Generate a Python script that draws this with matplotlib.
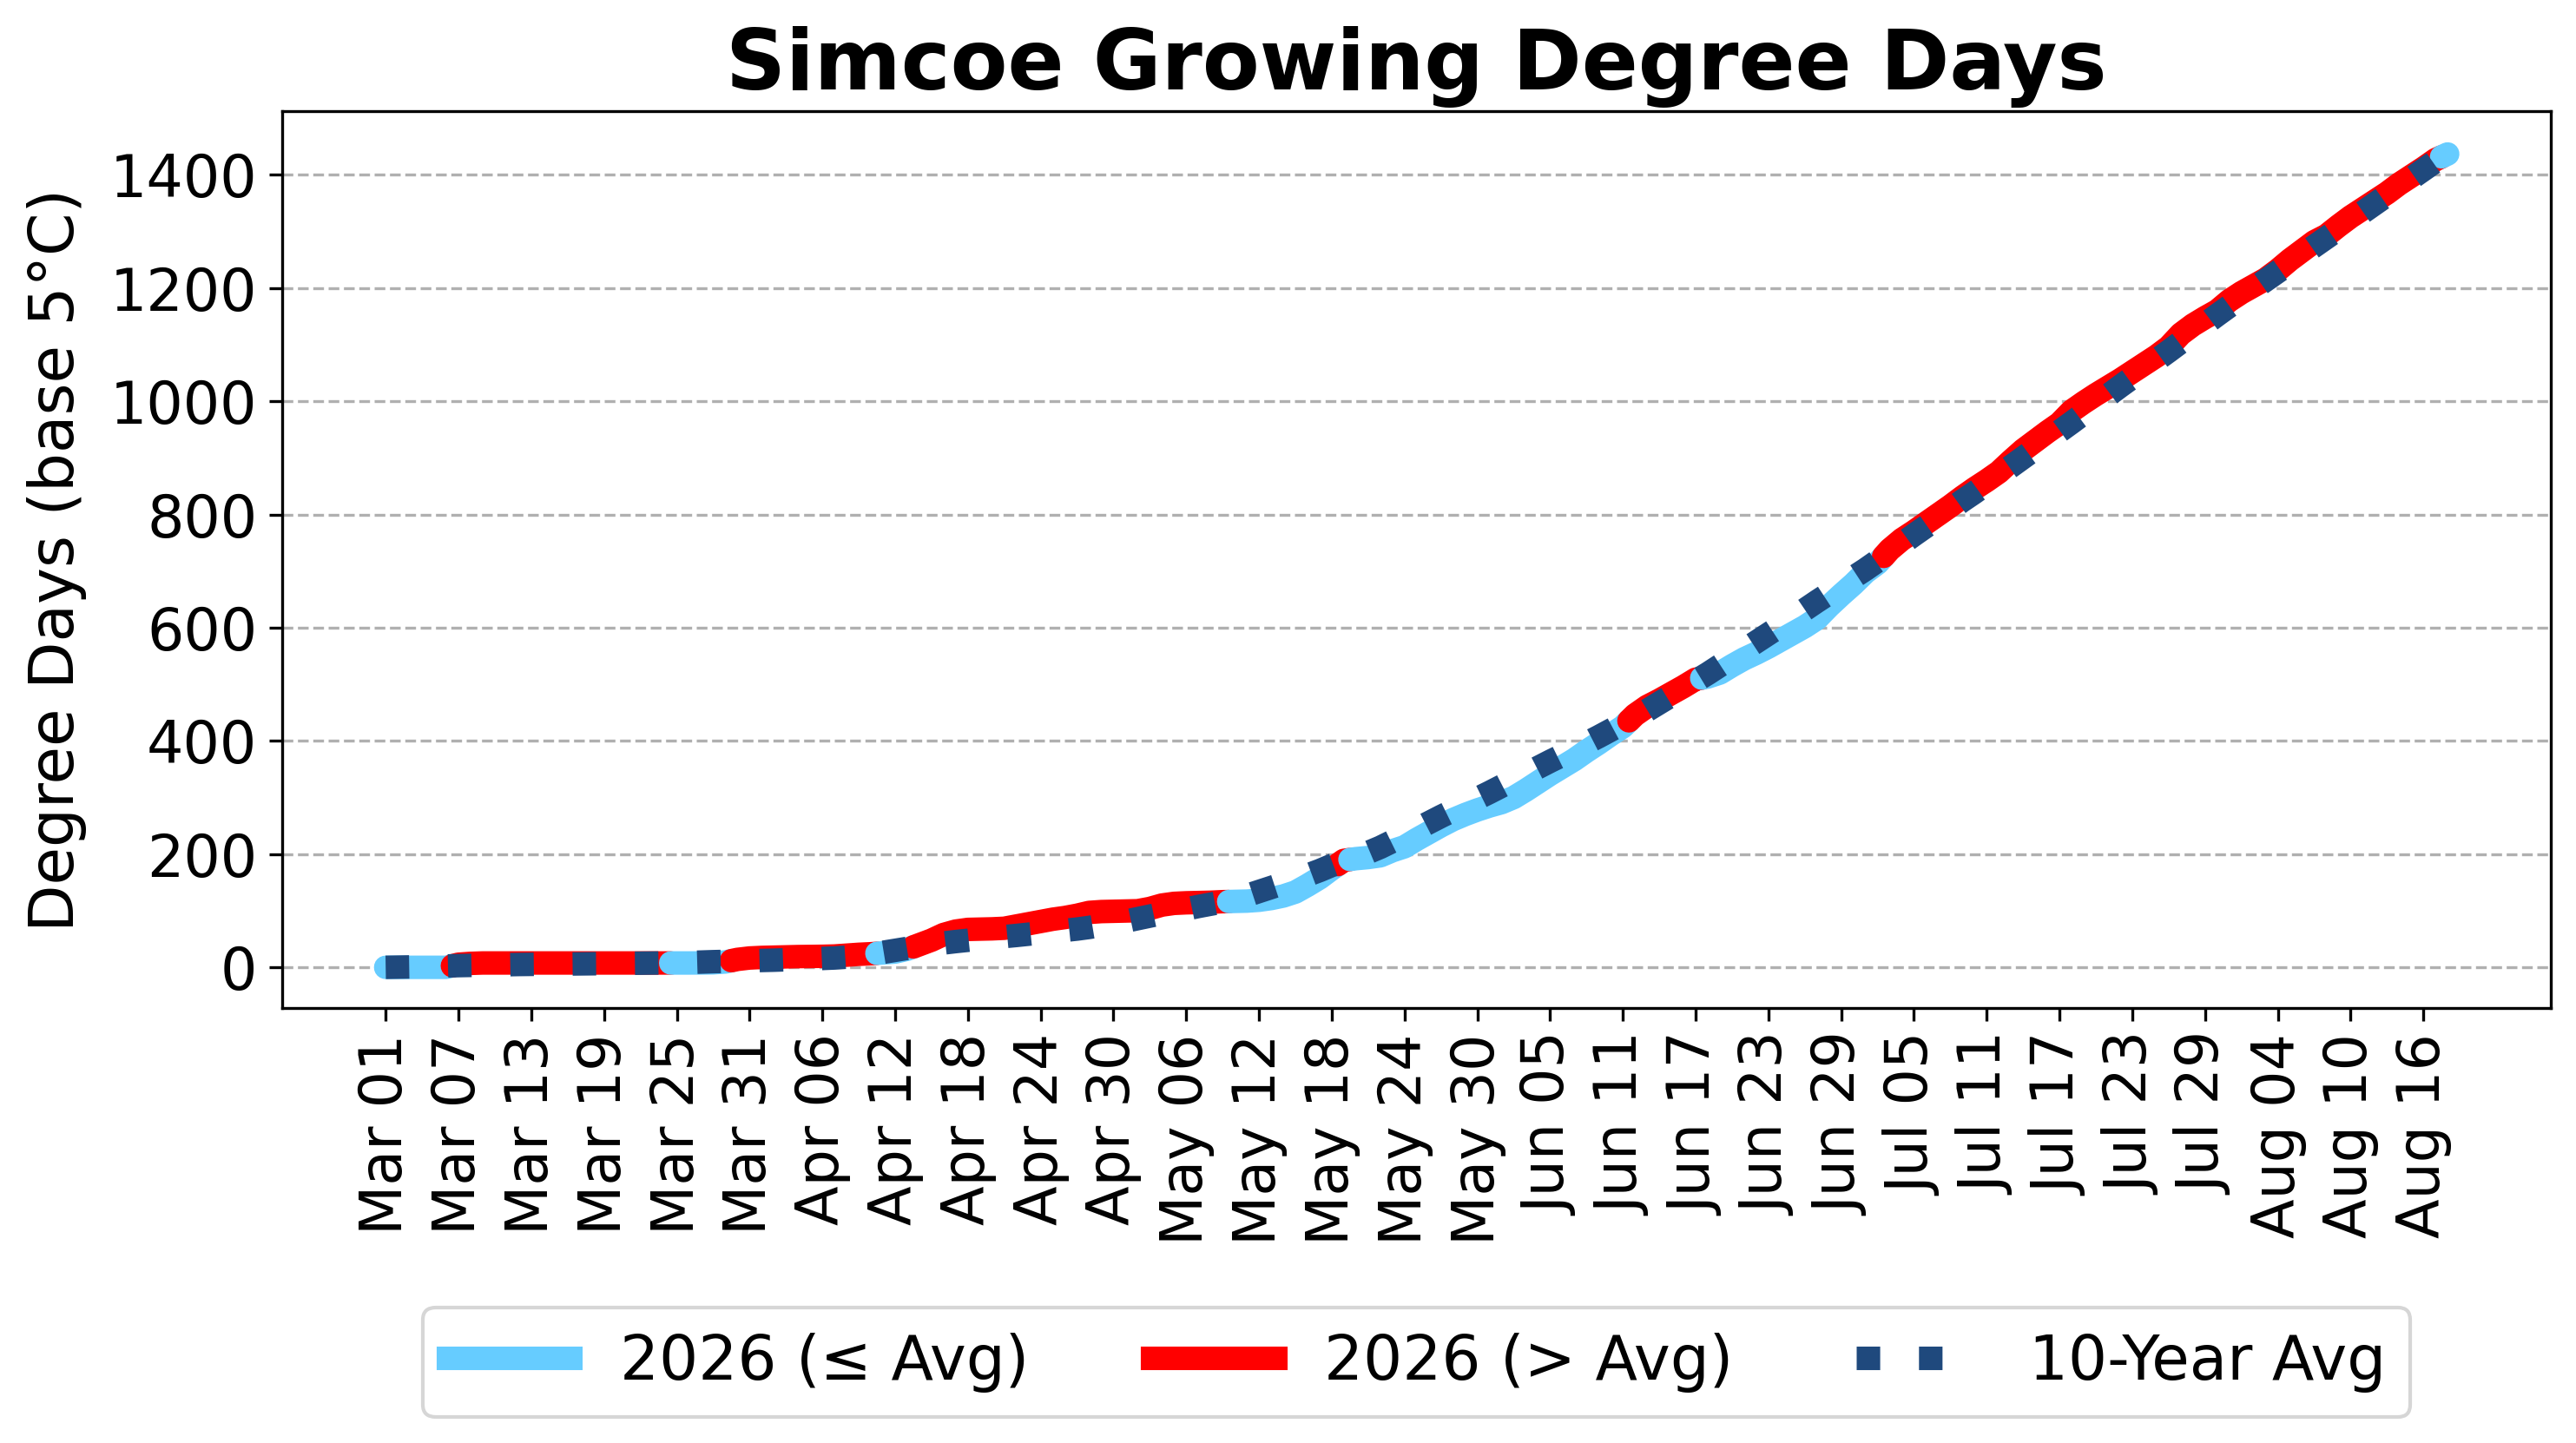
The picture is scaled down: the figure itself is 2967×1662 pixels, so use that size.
#!/usr/bin/env python3
"""
Simcoe growing degree days: 2026 season vs the 10-year average.
"""

import numpy as np
import pandas as pd
import matplotlib
matplotlib.use("Agg")
import matplotlib.pyplot as plt
import matplotlib.dates as mdates
from matplotlib.lines import Line2D
from matplotlib.ticker import MultipleLocator


OUTPUT_FILE = "out.png"

DATES = pd.date_range("2026-03-01", "2026-08-18", freq="D")

# cumulative GDD (base 5C), one value per day
GDD_2026 = [
    0, 0, 0, 0, 0, 0, 5.5, 7.0, 7.7, 7.7,
    7.7, 7.7, 7.7, 7.7, 7.7, 7.7, 7.7, 7.7, 7.7, 7.7,
    7.7, 7.7, 7.7, 7.7, 7.7, 7.7, 7.8, 8.0, 9.5, 14.0,
    16.5, 17.5, 18.0, 18.5, 19.0, 19.2, 19.5, 20.0, 21.5, 23.0,
    24.0, 25.5, 27.0, 32.0, 40.0, 48.0, 58.0, 64.0, 67.0, 67.5,
    68.0, 69.0, 73.0, 77.0, 81.0, 85.0, 88.0, 92.0, 97.0, 98.5,
    99.0, 99.5, 100.0, 104.0, 110.0, 113.0, 114.0, 114.5, 115.0, 116.0,
    116.5, 117, 118.5, 121.5, 126, 133, 145, 158, 174, 189,
    192, 194, 197, 206, 213, 226, 238, 250, 261, 270,
    278, 285, 291, 300, 313, 327, 341, 354, 367, 382,
    396, 411, 425, 446, 461, 472, 484, 496, 509, 513,
    520, 533, 545, 555, 566, 578, 590, 602, 616, 638,
    658, 677, 698, 714, 738, 756, 770, 785, 800, 815,
    831, 846, 860, 875, 895, 914, 930, 946, 961, 983,
    998, 1012, 1025, 1038, 1052, 1066, 1080, 1096, 1119, 1135,
    1148, 1160, 1178, 1192, 1204, 1216, 1232, 1250, 1266, 1282,
    1293, 1310, 1326, 1340, 1354, 1368, 1384, 1398, 1412, 1427,
    1437,
]

GDD_AVG = [
    0, 0.3, 0.7, 1.2, 1.8, 2.4, 3.0, 3.4, 3.8, 4.2,
    4.6, 5.0, 5.2, 5.4, 5.6, 5.8, 6.0, 6.3, 6.6, 6.9,
    7.1, 7.3, 7.5, 7.6, 8.0, 8.6, 9.3, 10.0, 10.5, 11.0,
    11.5, 12.0, 12.6, 13.3, 14.0, 14.8, 15.6, 16.5, 18.0, 20.5,
    23.5, 26.5, 30.0, 33.5, 37.0, 40.0, 43.0, 45.5, 47.8, 50.0,
    52.2, 54.3, 56.3, 58.5, 60.7, 63.0, 65.3, 67.6, 70.5, 74.0,
    77.5, 81.5, 86.0, 90.5, 95.0, 99.5, 103.0, 107.5, 111.5, 115.5,
    121, 127, 134, 141, 148, 155.5, 163, 171, 180, 188,
    195.5, 203, 212, 222.5, 233.5, 244.5, 255.5, 266.5, 277, 288,
    298.5, 309, 320, 331, 342, 353, 364, 374.5, 385.5, 396.5,
    407.5, 419, 430.5, 442, 454, 467, 480, 493, 506, 519,
    533, 547, 561, 575, 589, 603, 617.5, 632, 646.5, 660.5,
    675, 689, 703, 718, 733, 748.5, 764, 779, 794, 809,
    824.5, 839, 854.5, 870, 885, 900.5, 916, 931.5, 947, 962.5,
    978.5, 994.5, 1010.5, 1026.5, 1042, 1057.5, 1073, 1088.5, 1104.5, 1120.5,
    1136.5, 1152.5, 1168, 1183.5, 1199, 1214, 1229, 1244, 1259, 1274,
    1289, 1304, 1319, 1334, 1349, 1364, 1379, 1394, 1409, 1424,
    1440,
]

COLOR_BELOW = "#66ccff"
COLOR_ABOVE = "#ff0000"
COLOR_AVG = "#1f497d"
LINE_W = 6.5


def runs_of(flags):
    """Split indices into runs of equal flag value."""
    runs = []
    start = 0
    for i in range(1, len(flags) + 1):
        if i == len(flags) or flags[i] != flags[start]:
            runs.append((start, i - 1, flags[start]))
            start = i
    return runs


def main():
    x = mdates.date2num(DATES.to_pydatetime())
    y = np.array(GDD_2026, dtype=float)
    avg = np.array(GDD_AVG, dtype=float)
    above = y > avg

    # midpoints between days, so each day owns the half-days either side
    xm = (x[:-1] + x[1:]) / 2
    ym = (y[:-1] + y[1:]) / 2

    fig = plt.figure(figsize=(2967 / 300, 1662 / 300), dpi=300)
    ax = fig.add_axes([0.1097, 0.3014, 0.8805, 0.6213])

    n = len(x)
    for a, b, flag in runs_of(above):
        xs = list(x[a:b + 1])
        ys = list(y[a:b + 1])
        if a > 0:
            xs.insert(0, xm[a - 1])
            ys.insert(0, ym[a - 1])
        if b < n - 1:
            xs.append(xm[b])
            ys.append(ym[b])
        ax.plot(xs, ys, color=COLOR_ABOVE if flag else COLOR_BELOW,
                lw=LINE_W, solid_capstyle="round", zorder=2)

    avg_line, = ax.plot(x, avg, color=COLOR_AVG, lw=LINE_W, linestyle=":",
                        zorder=3, label="10-Year Avg")

    ax.set_title("Simcoe Growing Degree Days", fontsize=23, fontweight="bold")
    ax.set_ylabel("Degree Days (base 5°C)", fontsize=17, labelpad=6.5)

    ax.set_xticks(x[::6])
    ax.set_xticklabels([d.strftime("%b %d") for d in DATES[::6]], rotation=90)
    ax.yaxis.set_major_locator(MultipleLocator(200))
    ax.tick_params(axis="both", labelsize=16)

    ax.grid(True, axis="y", linestyle="--", color="#b0b0b0")
    ax.set_axisbelow(True)

    handles = [
        Line2D([0], [0], color=COLOR_BELOW, lw=LINE_W, label="2026 (≤ Avg)"),
        Line2D([0], [0], color=COLOR_ABOVE, lw=LINE_W, label="2026 (> Avg)"),
        avg_line,
    ]
    ax.legend(handles=handles, loc="upper center", bbox_to_anchor=(0.5, -0.3),
              ncol=3, fontsize=17)

    fig.savefig(OUTPUT_FILE, dpi=300)
    plt.close(fig)


if __name__ == "__main__":
    main()
